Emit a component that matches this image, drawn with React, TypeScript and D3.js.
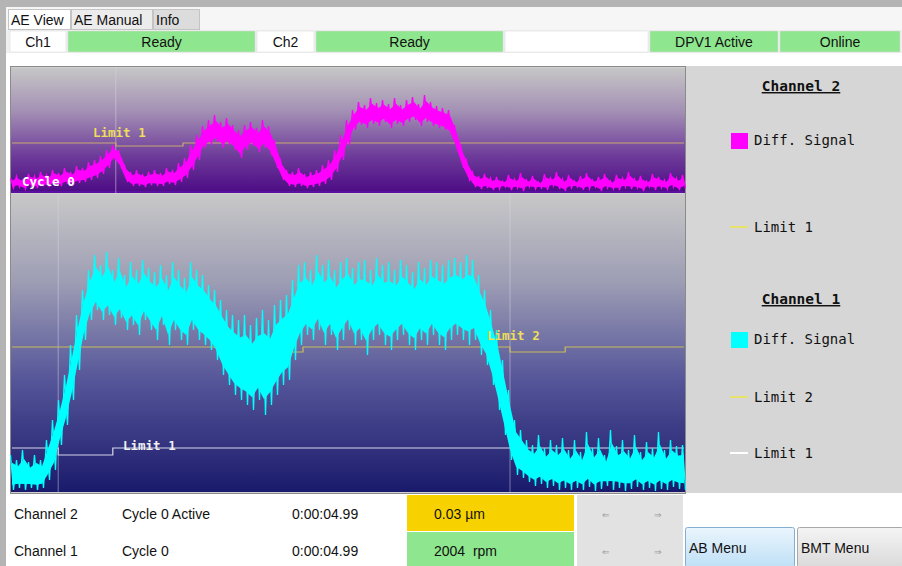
import React from "react";
import * as d3 from "d3";

// ---------- DATA ----------
// sample index 0..112 across the trace width
const ch2Hi = [15,17,13,19,17,21,18,23,20,25,21,27,25,31,33,37,43,48,43,28,21,23,19,21,23,20,25,23,30,35,48,58,67,73,78,71,75,68,63,68,71,65,73,67,53,33,23,21,25,19,21,23,28,33,43,58,73,83,91,88,95,90,93,89,95,88,93,96,89,98,91,87,85,83,68,48,33,21,17,19,15,
  16,12,18,14,20,13,17,11,19,15,21,14,18,12,17,20,13,16,19,12,18,15,21,14,17,12,19,16,13,20,15,18];
const ch2Lo = [5,6,4,7,5,7,6,8,7,9,8,10,11,13,15,19,25,33,25,11,7,7,6,8,7,7,9,8,11,15,23,33,45,48,51,45,48,43,35,43,47,41,45,38,25,13,7,6,7,5,6,7,9,13,21,33,48,63,68,65,69,67,71,65,69,67,71,73,67,71,67,65,63,58,43,25,13,6,4,5,3,
  4,6,3,5,2,6,4,5,3,7,4,2,5,6,3,4,6,2,5,4,3,6,4,5,2,6,3,5,4,6,3,5];
const ch1Hi = [37,32,42,30,37,32,52,72,92,117,
  147,177,202,222,237,227,240,222,234,217,
  230,222,232,224,220,227,217,230,222,214,
  230,222,217,207,202,192,182,177,172,177,
  167,174,182,172,187,192,197,212,227,230,
  222,237,227,232,222,230,234,224,230,232,
  222,234,227,230,222,232,227,220,230,224,
  232,230,227,232,234,230,237,232,217,202,
  182,162,132,102,72,62,52,47,57,44,
  52,47,54,42,
  52,40,60,44,54,37,62,46,52,42,57,40,50,44,60,42,52,46,47];
const ch1Lo = [2,4,2,4,2,4,12,22,47,67,
  92,122,152,172,182,172,177,167,174,162,
  167,157,172,162,152,167,147,162,152,147,
  162,152,147,142,132,117,107,97,92,87,
  82,92,77,87,97,107,112,132,147,157,
  152,162,147,157,142,152,162,147,152,137,
  152,157,147,142,152,157,147,142,152,147,
  157,147,142,152,157,152,147,152,137,127,
  107,82,57,32,17,14,10,6,8,4,
  6,2,4,2,
  4,2,5,1,3,6,2,4,1,3,5,2,4,1,3,2,5,3,2];

// limit step curves: [sample, value]
const ch2Limit1: [number, number][] = [[0, 50], [17.3, 50], [17.3, 47], [28.5, 47], [28.5, 50], [112, 50]];
const ch1Limit2: [number, number][] = [[0, 145], [39.7, 145], [39.7, 140], [48.5, 140], [48.5, 145], [83, 145], [83, 140], [92.2, 140], [92.2, 145], [112, 145]];
const ch1Limit1: [number, number][] = [[0, 44], [7.7, 44], [7.7, 37], [16.8, 37], [16.8, 44], [112, 44]];
const ch2Cursors = [17.3];
const ch1Cursors = [7.7, 83];

const tabs = ["AE View", "AE Manual", "Info"];
const statusCells = ["Ch1", "Ready", "Ch2", "Ready", "", "DPV1 Active", "Online"];
const rows = [
  { ch: "Channel 2", cycle: "Cycle 0 Active", time: "0:00:04.99", value: "0.03 µm" },
  { ch: "Channel 1", cycle: "Cycle 0", time: "0:00:04.99", value: "2004  rpm" },
];

// ---------- LAYOUT ----------
const X0 = 12, X1 = 684;
const TOP = { y0: 68, y1: 193, max: 125 };
const BOT = { y0: 194, y1: 492, max: 298 };
const mono = "'DejaVu Sans Mono', 'Liberation Mono', monospace";
const sans = "'Liberation Sans', Arial, sans-serif";

function Trace({ hi, lo, y, color }: { hi: number[]; lo: number[]; y: d3.ScaleLinear<number, number>; color: string }) {
  const x = d3.scaleLinear().domain([0, hi.length - 1]).range([X0, X1]);
  const idx = d3.range(hi.length);
  const core = (i: number, f: number) => lo[i] + (hi[i] - lo[i]) * f;
  const area = d3.area<number>().x((i) => x(i)).y0((i) => y(core(i, 0.15))).y1((i) => y(core(i, 0.78)))(idx) || "";
  const zz: [number, number][] = [];
  idx.forEach((i) => {
    zz.push([x(i) - 1.5, y(hi[i])]);
    zz.push([x(i) + 1.5, y(lo[i])]);
  });
  const line = d3.line()(zz) || "";
  return (
    <g>
      <path d={area} fill={color} />
      <path d={line} fill="none" stroke={color} strokeWidth={1.3} />
    </g>
  );
}

export default function App() {
  const xs = d3.scaleLinear().domain([0, 112]).range([X0, X1]);
  const yTop = d3.scaleLinear().domain([0, TOP.max]).range([TOP.y1, TOP.y0]);
  const yBot = d3.scaleLinear().domain([0, BOT.max]).range([BOT.y1, BOT.y0]);
  const stepLine = (pts: [number, number][], y: d3.ScaleLinear<number, number>) =>
    d3.line<[number, number]>().x((d) => xs(d[0])).y((d) => y(d[1]))(pts) || "";

  const tabX = [8, 71, 153, 200];
  const cellX = [10, 68, 257, 316, 505, 650, 780, 902];
  const cellFill = ["#ffffff", "#8ee68e", "#ffffff", "#8ee68e", "#ffffff", "#8ee68e", "#8ee68e"];

  return (
    <svg width={902} height={566} style={{ position: "absolute", left: 0, top: 0, display: "block" }}>
      <defs>
        <linearGradient id="gTop" x1="0" y1="0" x2="0" y2="1">
          <stop offset="0%" stopColor="#c6c6c6" />
          <stop offset="35%" stopColor="#a38fb4" />
          <stop offset="70%" stopColor="#6e3c9a" />
          <stop offset="100%" stopColor="#4c0a84" />
        </linearGradient>
        <linearGradient id="gBot" x1="0" y1="0" x2="0" y2="1">
          <stop offset="0%" stopColor="#c8c8c8" />
          <stop offset="30%" stopColor="#9c9cb4" />
          <stop offset="62%" stopColor="#56569a" />
          <stop offset="100%" stopColor="#1a1a6c" />
        </linearGradient>
        <linearGradient id="gAB" x1="0" y1="0" x2="0" y2="1">
          <stop offset="0%" stopColor="#eaf5fd" />
          <stop offset="100%" stopColor="#bfe0f6" />
        </linearGradient>
        <linearGradient id="gBMT" x1="0" y1="0" x2="0" y2="1">
          <stop offset="0%" stopColor="#f4f4f4" />
          <stop offset="100%" stopColor="#dadada" />
        </linearGradient>
      </defs>

      {/* background */}
      <rect x={0} y={0} width={902} height={566} fill="#ffffff" />
      <rect x={0} y={0} width={902} height={7} fill="#b4b4b4" />
      <rect x={0} y={0} width={6} height={566} fill="#b4b4b4" />
      <rect x={6} y={7} width={896} height={23} fill="#f6f6f6" />

      {/* tabs */}
      {tabs.map((t, i) => (
        <g key={t}>
          <rect x={tabX[i] + 0.5} y={9.5} width={tabX[i + 1] - tabX[i] - 1} height={20}
            fill={i === 0 ? "#ffffff" : i === 1 ? "#ececec" : "#dcdcdc"} stroke="#c4c4c4" />
          <text x={tabX[i] + 3} y={25} fontFamily={sans} fontSize={14} fill="#111">{t}</text>
        </g>
      ))}

      {/* status row */}
      <rect x={6} y={30} width={896} height={23} fill="#f0f0f0" />
      {statusCells.map((s, i) => (
        <g key={i}>
          <rect x={cellX[i]} y={31} width={cellX[i + 1] - cellX[i] - 2} height={21} fill={cellFill[i]} stroke="#dcdcdc" strokeWidth={0.6} />
          <text x={(cellX[i] + cellX[i + 1] - 2) / 2} y={47} textAnchor="middle" fontFamily={sans} fontSize={14} fill="#111">{s}</text>
        </g>
      ))}

      {/* chart frame */}
      <rect x={10.5} y={66.5} width={675} height={427} fill="#d0d0d0" stroke="#8a8a8a" />
      <rect x={686} y={66} width={216} height={427} fill="#d6d6d6" />

      {/* top chart */}
      <rect x={11} y={TOP.y0} width={674} height={TOP.y1 - TOP.y0} fill="url(#gTop)" />
      <rect x={11} y={TOP.y1 - 2} width={674} height={2} fill="#5a10a0" />
      {ch2Cursors.map((c) => (
        <line key={c} x1={xs(c)} x2={xs(c)} y1={TOP.y0} y2={TOP.y1} stroke="#d8d0e0" strokeWidth={0.8} opacity={0.7} />
      ))}
      <path d={stepLine(ch2Limit1, yTop)} fill="none" stroke="#caa872" strokeWidth={1.2} />
      <Trace hi={ch2Hi} lo={ch2Lo} y={yTop} color="#ff00ff" />
      <text x={93} y={137} fontFamily={mono} fontSize={12.5} fontWeight="bold" fill="#eede5a">Limit 1</text>
      <text x={22} y={186} fontFamily={mono} fontSize={12.5} fontWeight="bold" fill="#ffffff">Cycle 0</text>

      {/* bottom chart */}
      <rect x={11} y={BOT.y0} width={674} height={BOT.y1 - BOT.y0} fill="url(#gBot)" />
      {ch1Cursors.map((c) => (
        <line key={c} x1={xs(c)} x2={xs(c)} y1={BOT.y0} y2={BOT.y1} stroke="#d8d8e8" strokeWidth={0.8} opacity={0.6} />
      ))}
      <path d={stepLine(ch1Limit2, yBot)} fill="none" stroke="#c8bc5a" strokeWidth={1.2} />
      <path d={stepLine(ch1Limit1, yBot)} fill="none" stroke="#d8d8ea" strokeWidth={1.2} />
      <Trace hi={ch1Hi} lo={ch1Lo} y={yBot} color="#00ffff" />
      <text x={487} y={340} fontFamily={mono} fontSize={12.5} fontWeight="bold" fill="#eede5a">Limit 2</text>
      <text x={123} y={450} fontFamily={mono} fontSize={12.5} fontWeight="bold" fill="#f0f0f0">Limit 1</text>

      {/* legend */}
      <g fontFamily={mono} fill="#111">
        <text x={801} y={91} textAnchor="middle" fontSize={14.5} fontWeight="bold" textDecoration="underline">Channel 2</text>
        <rect x={731} y={133} width={17} height={16} fill="#ff00ff" />
        <text x={754} y={145} fontSize={14}>Diff. Signal</text>
        <line x1={730} x2={748} y1={227} y2={227} stroke="#e6e26a" strokeWidth={2} />
        <text x={754} y={232} fontSize={14}>Limit 1</text>
        <text x={801} y={304} textAnchor="middle" fontSize={14.5} fontWeight="bold" textDecoration="underline">Channel 1</text>
        <rect x={731} y={332} width={17} height={16} fill="#00ffff" />
        <text x={754} y={344} fontSize={14}>Diff. Signal</text>
        <line x1={730} x2={748} y1={397} y2={397} stroke="#e6e26a" strokeWidth={2} />
        <text x={754} y={402} fontSize={14}>Limit 2</text>
        <line x1={730} x2={748} y1={453} y2={453} stroke="#ffffff" strokeWidth={2} />
        <text x={754} y={458} fontSize={14}>Limit 1</text>
      </g>

      {/* bottom rows */}
      <rect x={407} y={495} width={167} height={36} fill="#f8d200" />
      <rect x={407} y={532} width={167} height={34} fill="#8ee68e" />
      <rect x={577} y={495} width={106} height={71} fill="#e2e2e2" />
      {rows.map((r, i) => {
        const yb = 519 + i * 37;
        return (
          <g key={r.ch} fontFamily={sans} fontSize={14} fill="#111">
            <text x={14} y={yb}>{r.ch}</text>
            <text x={122} y={yb}>{r.cycle}</text>
            <text x={292} y={yb}>{r.time}</text>
            <text x={434} y={yb} style={{ whiteSpace: "pre" }}>{r.value}</text>
            <text x={602} y={yb - 1} fontSize={9} fill="#9a9a9a">⇐</text>
            <text x={654} y={yb - 1} fontSize={9} fill="#9a9a9a">⇒</text>
          </g>
        );
      })}
      <rect x={685.5} y={527.5} width={109} height={40} rx={2} fill="url(#gAB)" stroke="#84aed0" />
      <text x={689} y={553} fontFamily={sans} fontSize={14} fill="#111">AB Menu</text>
      <rect x={797.5} y={527.5} width={106} height={40} rx={2} fill="url(#gBMT)" stroke="#a8a8a8" />
      <text x={801} y={553} fontFamily={sans} fontSize={14} fill="#111">BMT Menu</text>
    </svg>
  );
}
